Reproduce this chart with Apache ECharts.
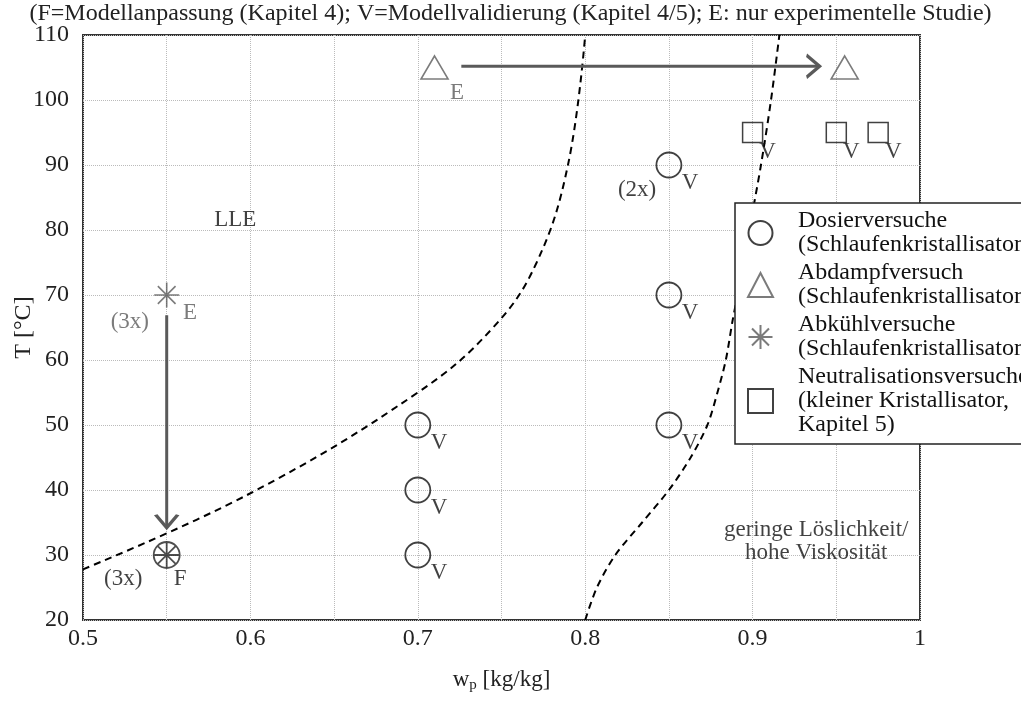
<!DOCTYPE html>
<html>
<head>
<meta charset="utf-8">
<script src="https://cdn.jsdelivr.net/npm/echarts@6/dist/echarts.min.js"></script>
<style>
  html, body { margin: 0; padding: 0; background: #fff; }
  #chart { width: 1021px; height: 701px; }
</style>
</head>
<body>
<div id="chart"></div>
<script>
// Messpunkte (w_p in kg/kg, T in °C)
const dosierW = [0.7, 0.7, 0.7, 0.85, 0.85, 0.85];
const dosierT = [30, 40, 50, 50, 70, 90];
const abdampfW = [0.71, 0.955];
const abdampfT = [105, 105];
const abkuehlW = [0.55];
const abkuehlT = [70];
const neutralW = [0.9, 0.95, 0.975];
const neutralT = [95, 95, 95];
const fitW = [0.55];
const fitT = [30];

// Phasengrenzen (gestrichelt)
const lleW = [0.5, 0.6, 0.7, 0.745, 0.771, 0.7897, 0.8];
const lleT = [27.8, 39.5, 55, 65, 75, 90, 110];
const solW = [0.8, 0.807, 0.818, 0.834, 0.85, 0.863, 0.873, 0.879, 0.884, 0.888, 0.891, 0.898, 0.905, 0.911, 0.916];
const solT = [20, 25, 30, 35, 40, 45, 50, 55, 60, 66, 70, 80, 90, 100, 110];

// Pfeile
const arrowDownW = [0.55, 0.55];
const arrowDownT = [66.9, 34.2];
const arrowRightW = [0.726, 0.94];
const arrowRightT = [105.2, 105.2];

// Beschriftungen im Diagramm
const noteW = [0.7127, 0.7127, 0.7127, 0.8627, 0.8627, 0.8627, 0.831, 0.909, 0.959, 0.984, 0.558, 0.524, 0.591, 0.938];
const noteT = [27.2, 37.2, 47.2, 47.2, 67.2, 87.2, 86.2, 92, 92, 92, 26.3, 26.3, 81.5, 32.1];
const noteText = ['V', 'V', 'V', 'V', 'V', 'V', '(2x)', 'V', 'V', 'V', 'F', '(3x)', 'LLE', 'geringe Löslichkeit/\nhohe Viskosität'];
const grayW = [0.7234, 0.564, 0.528];
const grayT = [101.1, 67.2, 65.8];
const grayText = ['E', 'E', '(3x)'];

const FONT = 'Liberation Serif';
const GRAY = '#5a5a5a';
const STAR = 'path://M10 0 L10 20 M0 10 L20 10 M2.93 2.93 L17.07 17.07 M17.07 2.93 L2.93 17.07';
const STAR_CIRCLE = 'path://M20 10 A10 10 0 1 1 0 10 A10 10 0 1 1 20 10 M10 0 L10 20 M0 10 L20 10 M2.93 2.93 L17.07 17.07 M17.07 2.93 L2.93 17.07';
const CHEVRON_DOWN = 'path://M0 0 L10 12 L20 0';
const CHEVRON_RIGHT = 'path://M0 0 L12 10 L0 20';

function zip (a, b) {
  return a.map((v, i) => [v, b[i]])
}
function zip3 (a, b, c) {
  return a.map((v, i) => [v, b[i], c[i]])
}

const nameDosier = 'Dosierversuche\n(Schlaufenkristallisator)';
const nameAbdampf = 'Abdampfversuch\n(Schlaufenkristallisator)';
const nameAbkuehl = 'Abkühlversuche\n(Schlaufenkristallisator)';
const nameNeutral = 'Neutralisationsversuche\n(kleiner Kristallisator,\nKapitel 5)';

const chart = echarts.init(document.getElementById('chart'));
chart.setOption({
  animation: false,
  backgroundColor: '#fff',
  title: {
    text: '(F=Modellanpassung (Kapitel 4); V=Modellvalidierung (Kapitel 4/5); E: nur experimentelle Studie)',
    left: 'center',
    top: -3,
    textStyle: { fontFamily: FONT, fontSize: 24, fontWeight: 'normal', color: '#222' }
  },
  grid: {
    left: 83, right: 101, top: 35, bottom: 81,
    containLabel: false,
    outerBoundsMode: 'none',
    show: true, borderColor: '#333', borderWidth: 2
  },
  legend: {
    orient: 'vertical',
    left: 735,
    top: 203,
    padding: [6, 10, 7, 12],
    itemGap: 4,
    itemWidth: 25,
    itemHeight: 24,
    backgroundColor: '#fff',
    borderColor: '#222',
    borderWidth: 1.5,
    borderRadius: 0,
    selectedMode: false,
    data: [nameDosier, nameAbdampf, nameAbkuehl, nameNeutral],
    textStyle: { fontFamily: FONT, fontSize: 24, lineHeight: 24, color: '#111', padding: [0, 0, 0, 20] }
  },
  xAxis: {
    type: 'value',
    min: 0.5, max: 1, interval: 0.1,
    name: '{w|w}{sub|p}{w| [kg/kg]}',
    nameLocation: 'middle',
    nameGap: 47,
    nameMoveOverlap: false,
    nameTextStyle: {
      rich: {
        w: { fontFamily: FONT, fontSize: 23, color: '#222' },
        sub: { fontFamily: FONT, fontSize: 15, color: '#222', verticalAlign: 'bottom', padding: [11, 0, 0, 0] }
      }
    },
    axisLine: { show: false },
    axisTick: { show: false },
    axisLabel: {
      margin: 7,
      fontFamily: FONT, fontSize: 24, color: '#222',
      formatter: v => String(Math.round(v * 10) / 10)
    },
    splitLine: { lineStyle: { color: '#bbb', type: 'dotted', width: 1 } },
    minorTick: { show: false, splitNumber: 2 },
    minorSplitLine: { show: true, lineStyle: { color: '#bbb', type: 'dotted', width: 1 } }
  },
  yAxis: {
    type: 'value',
    min: 20, max: 110, interval: 10,
    name: 'T [°C]',
    nameLocation: 'middle',
    nameGap: 47,
    nameMoveOverlap: false,
    nameTextStyle: { fontFamily: FONT, fontSize: 24, color: '#222' },
    axisLine: { show: false },
    axisTick: { show: false },
    axisLabel: { margin: 14, fontFamily: FONT, fontSize: 24, color: '#222' },
    splitLine: { lineStyle: { color: '#bbb', type: 'dotted', width: 1 } }
  },
  series: [
    {
      name: 'lle', type: 'line', smooth: 0.4, symbol: 'none', z: 3,
      data: zip(lleW, lleT),
      lineStyle: { color: '#000', width: 2, type: [7, 5] }
    },
    {
      name: 'sol', type: 'line', smooth: 0.3, symbol: 'none', z: 3,
      data: zip(solW, solT),
      lineStyle: { color: '#000', width: 2, type: [7, 5] }
    },
    {
      name: 'arrowDown', type: 'line', z: 3, showSymbol: true,
      lineStyle: { color: GRAY, width: 3 },
      itemStyle: { color: 'rgba(0,0,0,0)', borderColor: GRAY, borderWidth: 3 },
      data: arrowDownW.map((w, i) => i === arrowDownW.length - 1
        ? { value: [w, arrowDownT[i]], symbol: CHEVRON_DOWN, symbolSize: [22, 13], symbolOffset: [0, '-50%'] }
        : { value: [w, arrowDownT[i]], symbol: 'none' })
    },
    {
      name: 'arrowRight', type: 'line', z: 3, showSymbol: true,
      lineStyle: { color: GRAY, width: 3 },
      itemStyle: { color: 'rgba(0,0,0,0)', borderColor: GRAY, borderWidth: 3 },
      data: arrowRightW.map((w, i) => i === arrowRightW.length - 1
        ? { value: [w, arrowRightT[i]], symbol: CHEVRON_RIGHT, symbolSize: [13, 22], symbolOffset: ['-50%', 0] }
        : { value: [w, arrowRightT[i]], symbol: 'none' })
    },
    {
      name: nameDosier, type: 'scatter', symbol: 'circle', symbolSize: 25, z: 4,
      itemStyle: { color: 'rgba(0,0,0,0)', borderColor: '#111', borderWidth: 1.8 },
      data: zip(dosierW, dosierT)
    },
    {
      name: nameAbdampf, type: 'scatter', symbol: 'triangle', symbolSize: [27, 23], z: 4,
      itemStyle: { color: 'rgba(0,0,0,0)', borderColor: GRAY, borderWidth: 1.6 },
      data: zip(abdampfW, abdampfT)
    },
    {
      name: nameAbkuehl, type: 'scatter', symbol: STAR, symbolSize: 25, z: 4,
      itemStyle: { color: 'rgba(0,0,0,0)', borderColor: GRAY, borderWidth: 1.6 },
      data: zip(abkuehlW, abkuehlT)
    },
    {
      name: nameNeutral, type: 'scatter', symbol: 'rect', symbolSize: 20, z: 4,
      itemStyle: { color: 'rgba(0,0,0,0)', borderColor: '#111', borderWidth: 1.5 },
      data: zip(neutralW, neutralT)
    },
    {
      name: 'fit', type: 'scatter', symbol: STAR_CIRCLE, symbolSize: 26, z: 4,
      itemStyle: { color: 'rgba(0,0,0,0)', borderColor: '#222', borderWidth: 1.8 },
      data: zip(fitW, fitT)
    },
    {
      name: 'notes', type: 'scatter', symbolSize: 1, z: 5, silent: true,
      itemStyle: { color: 'rgba(0,0,0,0)' },
      label: {
        show: true, position: 'inside', formatter: p => p.data[2],
        fontFamily: FONT, fontSize: 23, lineHeight: 23, color: '#111', align: 'center'
      },
      data: zip3(noteW, noteT, noteText)
    },
    {
      name: 'grayNotes', type: 'scatter', symbolSize: 1, z: 5, silent: true,
      itemStyle: { color: 'rgba(0,0,0,0)' },
      label: {
        show: true, position: 'inside', formatter: p => p.data[2],
        fontFamily: FONT, fontSize: 23, color: GRAY
      },
      data: zip3(grayW, grayT, grayText)
    }
  ]
});
</script>
</body>
</html>
